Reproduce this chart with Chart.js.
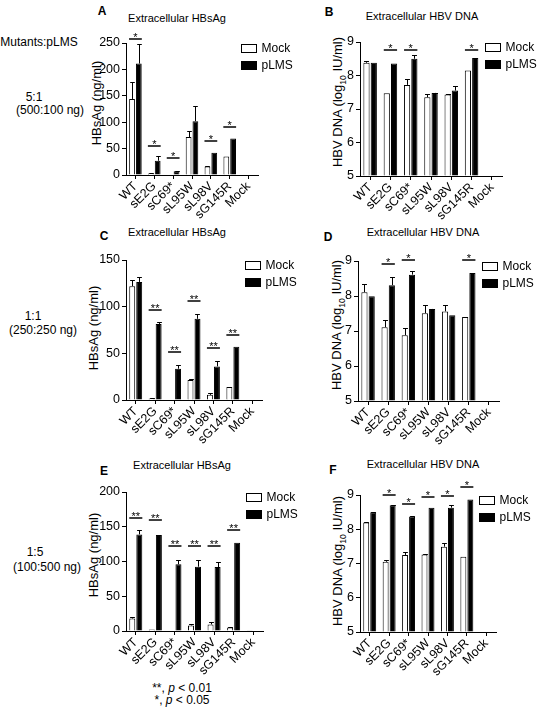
<!DOCTYPE html>
<html>
<head>
<meta charset="utf-8">
<script src="https://cdn.jsdelivr.net/npm/chart.js@4.4.0/dist/chart.umd.min.js"></script>
<style>
  body { margin: 0; background: #fff; }
  #page { position: relative; width: 537px; height: 708px; overflow: hidden; font-family: "Liberation Sans", Arial, sans-serif; color: #000; }
  .t { position: absolute; transform: translate(-50%, -50%); white-space: nowrap; line-height: 1; }
  .rot { transform: translate(-50%, -50%) rotate(-90deg); }
  .letter { font-weight: bold; font-size: 12px; }
  .title { font-size: 11px; }
  .ytitle { font-size: 13px; }
  .row { font-size: 12px; }
  canvas { position: absolute; }
</style>
</head>
<body>
<div id="page">
  <div class="t row" style="left:39px; top:42px;">Mutants:pLMS</div>
  <div class="t row" style="left:34px; top:97px;">5:1</div>
  <div class="t row" style="left:50px; top:110px;">(500:100 ng)</div>
  <div class="t row" style="left:33px; top:316px;">1:1</div>
  <div class="t row" style="left:43px; top:330px;">(250:250 ng)</div>
  <div class="t row" style="left:35px; top:552px;">1:5</div>
  <div class="t row" style="left:47px; top:567px;">(100:500 ng)</div>

  <div class="t letter" style="left:102px; top:11px;">A</div>
  <div class="t letter" style="left:329px; top:12px;">B</div>
  <div class="t letter" style="left:104px; top:236px;">C</div>
  <div class="t letter" style="left:328px; top:237px;">D</div>
  <div class="t letter" style="left:104px; top:471px;">E</div>
  <div class="t letter" style="left:333px; top:470px;">F</div>

  <div class="t title" style="left:177px; top:18px;">Extracellular HBsAg</div>
  <div class="t title" style="left:422px; top:16px;">Extracellular HBV DNA</div>
  <div class="t title" style="left:177px; top:232px;">Extracellular HBsAg</div>
  <div class="t title" style="left:423px; top:232px;">Extracellular HBV DNA</div>
  <div class="t title" style="left:182px; top:465px;">Extracellular HBsAg</div>
  <div class="t title" style="left:423px; top:464px;">Extracellular HBV DNA</div>

  <div class="t ytitle rot" style="left:96px; top:103px;">HBsAg (ng/ml)</div>
  <div class="t ytitle rot" style="left:339px; top:102px;">HBV DNA (log<sub style="font-size:8.5px">10</sub> IU/ml)</div>
  <div class="t ytitle rot" style="left:93px; top:328px;">HBsAg (ng/ml)</div>
  <div class="t ytitle rot" style="left:338px; top:325px;">HBV DNA (log<sub style="font-size:8.5px">10</sub> IU/ml)</div>
  <div class="t ytitle rot" style="left:93px; top:555px;">HBsAg (ng/ml)</div>
  <div class="t ytitle rot" style="left:339px; top:561px;">HBV DNA (log<sub style="font-size:8.5px">10</sub> IU/ml)</div>

  <div class="t row" style="left:182px; top:688px;">**, <i>p</i> &lt; 0.01</div>
  <div class="t row" style="left:182px; top:700px;">*, <i>p</i> &lt; 0.05</div>

  <canvas id="cA"></canvas>
  <canvas id="cB"></canvas>
  <canvas id="cC"></canvas>
  <canvas id="cD"></canvas>
  <canvas id="cE"></canvas>
  <canvas id="cF"></canvas>
</div>
<script>
const categories = ['WT', 'sE2G', 'sC69*', 'sL95W', 'sL98V', 'sG145R', 'Mock'];
const seriesNames = ['Mock', 'pLMS'];

// A - 5:1, HBsAg (ng/ml); *Err = top of the error bar
const aMock    = [144, 3, 0, 72, 16, 35, 0];
const aMockErr = [176, 3.5, 0, 84, 17.5, 35, 0];
const aPlms    = [211, 27, 7, 102, 42, 69, 0];
const aPlmsErr = [248, 36, 8, 131, 42, 69, 0];
const aSig     = [257, 55, 32, null, 64, 91, null];

// B - 5:1, HBV DNA (log10 IU/ml)
const bMock    = [8.38, 7.47, 7.72, 7.35, 7.43, 8.15, null];
const bMockErr = [8.42, 7.47, 7.9, 7.44, 7.45, 8.15, null];
const bPlms    = [8.38, 8.36, 8.5, 7.48, 7.55, 8.52, null];
const bPlmsErr = [8.38, 8.36, 8.6, 7.49, 7.7, 8.52, null];
const bSig     = [null, 8.77, 8.77, null, null, 8.77, null];

// C - 1:1, HBsAg
const cMock    = [122, 1.5, 0, 21.5, 5.5, 14, 0];
const cMockErr = [129, 1.8, 0, 22.5, 7.5, 14, 0];
const cPlms    = [126.5, 81.5, 33.5, 87, 36, 57, 0];
const cPlmsErr = [131.5, 83.5, 38, 92, 42, 57, 0];
const cSig     = [null, 96, 51, 106, 56, 70, null];

// D - 1:1, HBV DNA
const dMock    = [8.11, 7.11, 6.88, 7.51, 7.56, 7.4, null];
const dMockErr = [8.33, 7.32, 7.1, 7.73, 7.73, 7.4, null];
const dPlms    = [7.99, 8.31, 8.61, 7.63, 7.45, 8.66, null];
const dPlmsErr = [7.99, 8.55, 8.72, 7.64, 7.45, 8.66, null];
const dSig     = [null, 8.9, 9.04, null, null, 9.04, null];

// E - 1:5, HBsAg
const eMock    = [18, 2, 0, 8, 9.5, 5, 0.5];
const eMockErr = [20, 2, 0, 10, 12.5, 5.5, 0.5];
const ePlms    = [139, 138, 96, 92.5, 92, 127, 0];
const ePlmsErr = [146, 138, 102.5, 102, 100, 127, 0];
const eSig     = [163, 160, 122, 122, 122, 146, null];

// F - 1:5, HBV DNA
const fMock    = [8.2, 7.05, 7.25, 7.26, 7.49, 7.2, null];
const fMockErr = [8.22, 7.09, 7.33, 7.28, 7.6, 7.2, null];
const fPlms    = [8.5, 8.7, 8.37, 8.63, 8.63, 8.87, null];
const fPlmsErr = [8.51, 8.71, 8.4, 8.63, 8.7, 8.87, null];
const fSig     = [null, 9.0, 8.73, 8.93, 8.98, 9.22, null];

const FONT = '"Liberation Sans", Arial, sans-serif';

// error bars, significance marks and the legend
const extras = {
  id: 'extras',
  afterDraw(chart, args, opts) {
    const ctx = chart.ctx;
    const ys = chart.scales.y;
    const area = chart.chartArea;
    ctx.save();
    ctx.strokeStyle = '#000';
    ctx.fillStyle = '#000';
    ctx.lineWidth = 1;

    [opts.mockErr, opts.plmsErr].forEach((errs, di) => {
      const meta = chart.getDatasetMeta(di);
      meta.data.forEach((bar, i) => {
        const v = chart.data.datasets[di].data[i];
        const e = errs[i];
        if (v == null || e == null || e <= v) return;
        const top = Math.round(ys.getPixelForValue(e)) + 0.5;
        const x = Math.round(bar.x) + 0.5;
        const half = bar.width * 0.4;
        ctx.beginPath();
        ctx.moveTo(x, bar.y);
        ctx.lineTo(x, top);
        ctx.moveTo(x - half, top);
        ctx.lineTo(x + half, top);
        ctx.stroke();
      });
    });

    const m0 = chart.getDatasetMeta(0), m1 = chart.getDatasetMeta(1);
    ctx.font = '11px ' + FONT;
    ctx.textAlign = 'center';
    ctx.textBaseline = 'alphabetic';
    opts.sig.forEach((s, i) => {
      if (s == null) return;
      const y = Math.round(ys.getPixelForValue(s));
      const x1 = m0.data[i].x - 3, x2 = m1.data[i].x + 3;
      ctx.lineWidth = 1.5;
      ctx.beginPath();
      ctx.moveTo(x1, y);
      ctx.lineTo(x2, y);
      ctx.stroke();
      ctx.fillText(opts.star, (x1 + x2) / 2, y + 2);
    });

    const lx = Math.round(area.right - 17) + 0.5;
    const ly = Math.round(area.top + 1) + 0.5;
    ctx.lineWidth = 1;
    ctx.fillStyle = '#fff';
    ctx.fillRect(lx, ly, 15, 8);
    ctx.strokeRect(lx, ly, 15, 8);
    ctx.fillStyle = '#000';
    ctx.fillRect(lx, ly + 17, 15, 8);
    ctx.strokeRect(lx, ly + 17, 15, 8);
    ctx.font = '12px ' + FONT;
    ctx.textAlign = 'left';
    ctx.textBaseline = 'middle';
    ctx.fillText(seriesNames[0], lx + 20, ly + 4.5);
    ctx.fillText(seriesNames[1], lx + 20, ly + 21.5);
    ctx.restore();
  }
};

function makePanel(p) {
  const [l, t, r, b] = p.area;
  const yw = 40, xh = 58, top = 22;
  const cx = l - yw, cy = t - top;
  const canvas = document.getElementById(p.id);
  canvas.width = p.edge - cx;
  canvas.height = b + xh - cy;
  canvas.style.left = cx + 'px';
  canvas.style.top = cy + 'px';
  canvas.style.width = canvas.width + 'px';
  canvas.style.height = canvas.height + 'px';

  const axisGrid = { display: true, drawOnChartArea: false, drawTicks: true, tickLength: 4, color: '#000', lineWidth: 1 };
  new Chart(canvas, {
    type: 'bar',
    data: {
      labels: categories,
      datasets: [
        { label: seriesNames[0], data: p.mock, backgroundColor: '#fff', borderColor: '#000', borderWidth: 1, base: p.base },
        { label: seriesNames[1], data: p.plms, backgroundColor: '#000', borderColor: '#000', borderWidth: 1, base: p.base }
      ]
    },
    options: {
      responsive: false,
      animation: false,
      devicePixelRatio: 1,
      categoryPercentage: 0.72,
      barPercentage: 0.85,
      layout: { padding: { left: 0, top: top, right: p.edge - r, bottom: 0 } },
      plugins: {
        legend: { display: false },
        tooltip: { enabled: false },
        extras: { mockErr: p.mockErr, plmsErr: p.plmsErr, sig: p.sig, star: p.star }
      },
      scales: {
        x: {
          offset: true,
          grid: Object.assign({ offset: false }, axisGrid),
          border: { display: true, color: '#000', width: 1 },
          ticks: { autoSkip: false, minRotation: 45, maxRotation: 45, padding: 0, color: '#000', font: { size: 12.5, family: FONT } },
          afterFit(s) { s.height = xh; s.paddingLeft = 0; s.paddingRight = 0; }
        },
        y: {
          min: p.min,
          max: p.max,
          grid: axisGrid,
          border: { display: true, color: '#000', width: 1 },
          ticks: { stepSize: p.step, padding: 2, color: '#000', font: { size: 12.5, family: FONT } },
          afterFit(s) { s.width = yw; s.paddingTop = 0; s.paddingBottom = 0; }
        }
      }
    },
    plugins: [extras]
  });
}

makePanel({ id: 'cA', area: [126, 43, 258, 175], edge: 302, mock: aMock, mockErr: aMockErr, plms: aPlms, plmsErr: aPlmsErr, sig: aSig, star: '*', min: 0, max: 250, step: 50 });
makePanel({ id: 'cB', area: [360, 42, 502, 176], edge: 537, mock: bMock, mockErr: bMockErr, plms: bPlms, plmsErr: bPlmsErr, sig: bSig, star: '*', min: 5, max: 9, step: 1, base: 5 });
makePanel({ id: 'cC', area: [126, 260, 262, 400], edge: 302, mock: cMock, mockErr: cMockErr, plms: cPlms, plmsErr: cPlmsErr, sig: cSig, star: '**', min: 0, max: 150, step: 50 });
makePanel({ id: 'cD', area: [358, 261, 499, 401], edge: 537, mock: dMock, mockErr: dMockErr, plms: dPlms, plmsErr: dPlmsErr, sig: dSig, star: '*', min: 5, max: 9, step: 1, base: 5 });
makePanel({ id: 'cE', area: [126, 492, 263, 631], edge: 302, mock: eMock, mockErr: eMockErr, plms: ePlms, plmsErr: ePlmsErr, sig: eSig, star: '**', min: 0, max: 200, step: 50 });
makePanel({ id: 'cF', area: [360, 495, 496, 632], edge: 537, mock: fMock, mockErr: fMockErr, plms: fPlms, plmsErr: fPlmsErr, sig: fSig, star: '*', min: 5, max: 9, step: 1, base: 5 });
</script>
</body>
</html>
